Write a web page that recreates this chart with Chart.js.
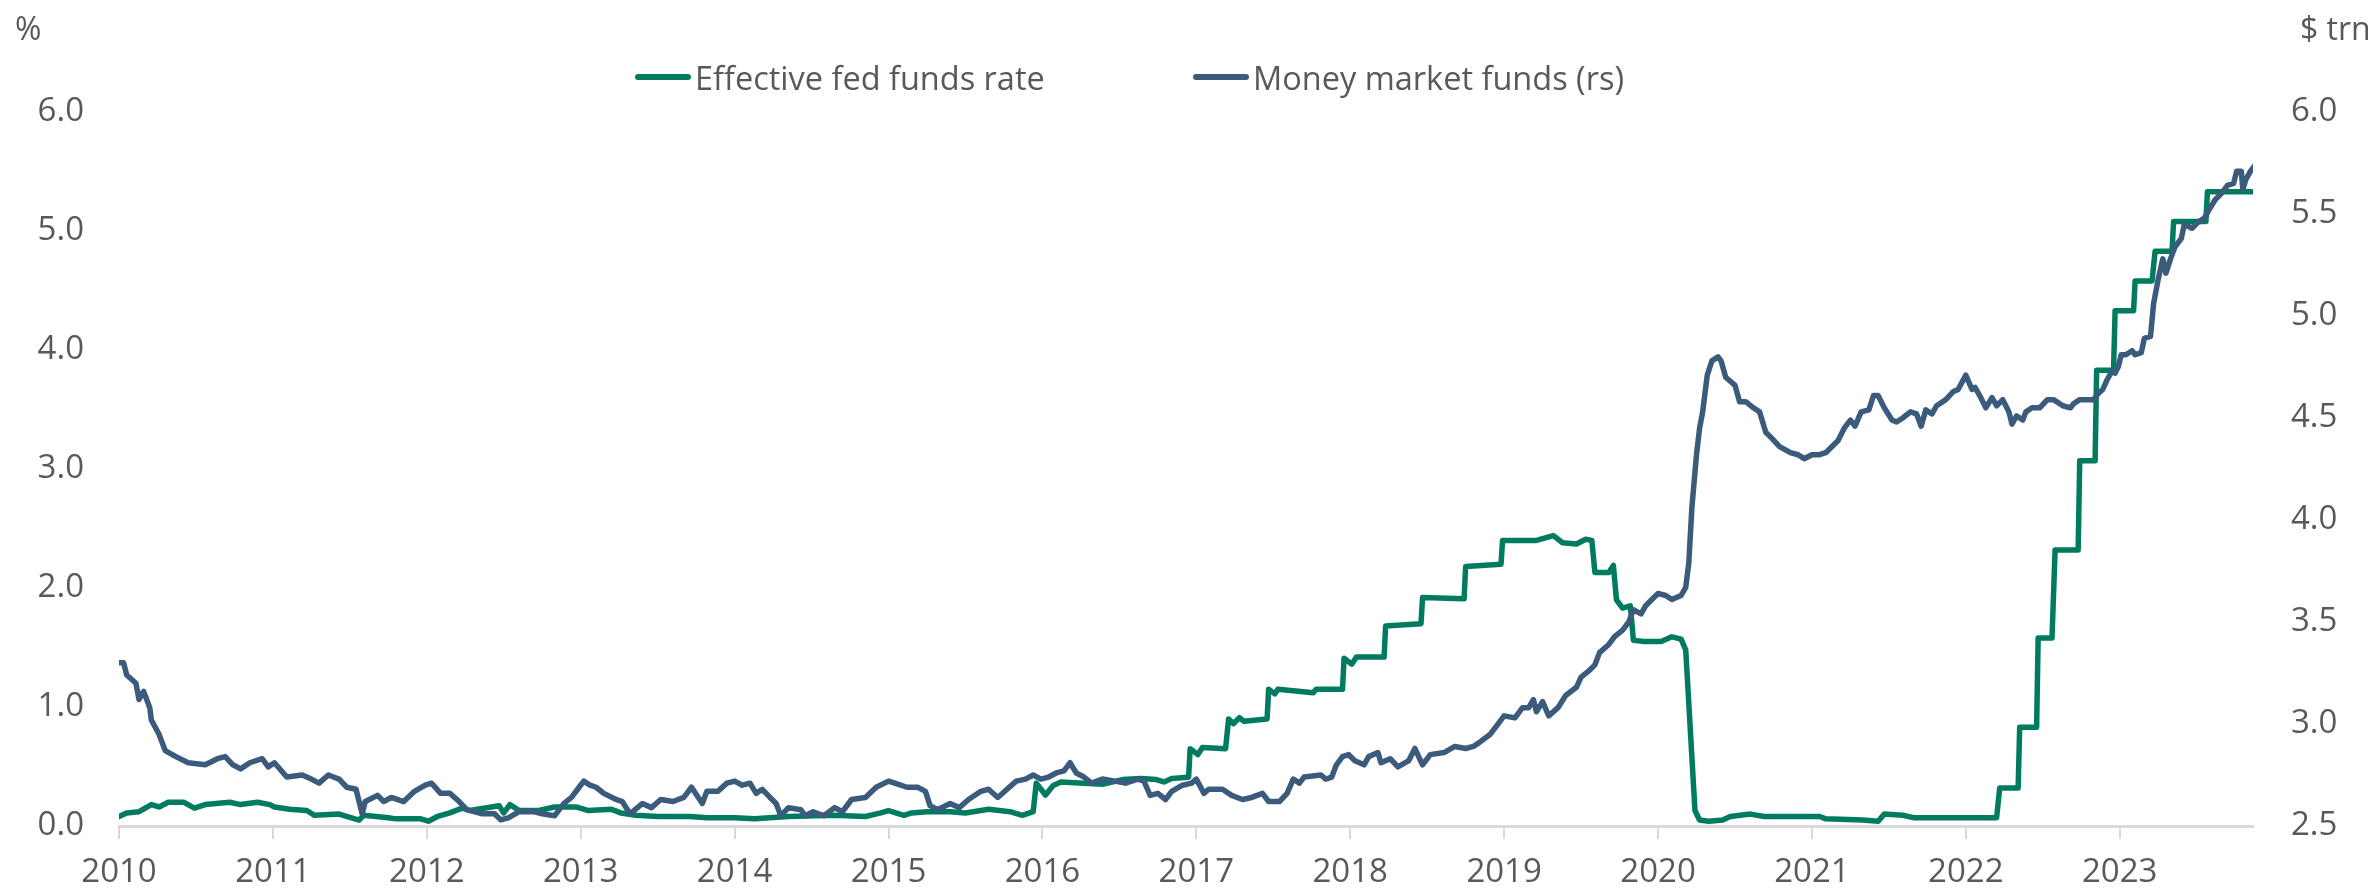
<!DOCTYPE html>
<html lang="en">
<head>
  <meta charset="UTF-8">
  <title>Fed funds rate vs money market funds</title>
  <script src="https://cdn.jsdelivr.net/npm/chart.js"></script>
  <style>
    body { margin: 0; background: #fff; font-family: "Open Sans", sans-serif; color: #595959; }
    #wrap { position: relative; width: 2379px; height: 894px; }
    .unit { position: absolute; top: 8px; font-size: 32px; line-height: 40px; }
    .item { position: absolute; top: 57px; height: 40px; display: flex; align-items: center; font-size: 32.5px; white-space: nowrap; }
    .item span.box { display: inline-block; width: 56px; height: 6px; border-radius: 3px; margin-right: 4px; }
  </style>
</head>
<body>
<div id="wrap">
  <canvas id="chart" width="2379" height="894"></canvas>
  <div class="unit" style="left:15px">%</div>
  <div class="unit" style="left:2300px">$ trn</div>
  <div class="item" style="left:635px"><span class="box" style="background:#007B5F"></span>Effective fed funds rate</div>
  <div class="item" style="left:1193px"><span class="box" style="background:#3B5B7C"></span>Money market funds (rs)</div>
</div>

<script>
  // effective fed funds rate, % (left axis) - x in decimal years
  const effrYears = [
    2010.00, 2010.05, 2010.13, 2010.21, 2010.26, 2010.32, 2010.42, 2010.49, 2010.56, 2010.72, 2010.79, 2010.90, 2010.98,
    2011.01, 2011.11, 2011.22, 2011.27, 2011.43, 2011.56, 2011.59, 2011.75, 2011.80, 2011.96,
    2012.01, 2012.07, 2012.15, 2012.23, 2012.28, 2012.47, 2012.50, 2012.54, 2012.60, 2012.73, 2012.83, 2012.97,
    2013.05, 2013.20, 2013.26, 2013.36, 2013.50, 2013.71, 2013.82,
    2014.00, 2014.13, 2014.35, 2014.65, 2014.85, 2014.95,
    2015.00, 2015.10, 2015.15, 2015.25, 2015.40, 2015.50, 2015.65, 2015.79, 2015.87, 2015.94, 2015.96,
    2016.02, 2016.07, 2016.12, 2016.27, 2016.39, 2016.52, 2016.64, 2016.74, 2016.79, 2016.84, 2016.95, 2016.96,
    2017.01, 2017.04, 2017.19, 2017.21, 2017.24, 2017.28, 2017.31, 2017.46, 2017.47, 2017.51, 2017.53, 2017.76, 2017.78, 2017.95, 2017.96,
    2018.01, 2018.04, 2018.22, 2018.23, 2018.46, 2018.47, 2018.74, 2018.75, 2018.98, 2018.99,
    2019.21, 2019.32, 2019.38, 2019.47, 2019.53, 2019.57, 2019.59, 2019.68, 2019.71, 2019.73, 2019.77, 2019.82, 2019.84, 2019.91,
    2020.02, 2020.09, 2020.15, 2020.18, 2020.24, 2020.27, 2020.33, 2020.42, 2020.47, 2020.60, 2020.69,
    2021.05, 2021.09, 2021.33, 2021.43, 2021.47, 2021.59, 2021.66,
    2022.20, 2022.22, 2022.34, 2022.35, 2022.46, 2022.47, 2022.56, 2022.58, 2022.73, 2022.74, 2022.84, 2022.85, 2022.96, 2022.97,
    2023.09, 2023.10, 2023.21, 2023.23, 2023.34, 2023.35, 2023.56, 2023.57, 2023.88
  ];
  const effrRates = [
    0.08, 0.11, 0.12, 0.18, 0.16, 0.20, 0.20, 0.15, 0.18, 0.20, 0.18, 0.20, 0.18,
    0.16, 0.14, 0.13, 0.09, 0.10, 0.05, 0.09, 0.07, 0.06, 0.06,
    0.04, 0.08, 0.11, 0.15, 0.13, 0.17, 0.11, 0.18, 0.13, 0.13, 0.16, 0.16,
    0.13, 0.14, 0.11, 0.09, 0.08, 0.08, 0.07,
    0.07, 0.06, 0.08, 0.09, 0.08, 0.11,
    0.13, 0.09, 0.11, 0.12, 0.12, 0.11, 0.14, 0.12, 0.09, 0.12, 0.36,
    0.26, 0.34, 0.37, 0.36, 0.35, 0.39, 0.40, 0.39, 0.37, 0.40, 0.41, 0.65,
    0.60, 0.66, 0.65, 0.90, 0.86, 0.91, 0.88, 0.90, 1.15, 1.11, 1.15, 1.12, 1.15, 1.15, 1.41,
    1.36, 1.42, 1.42, 1.68, 1.70, 1.92, 1.91, 2.18, 2.20, 2.40,
    2.40, 2.44, 2.38, 2.37, 2.41, 2.40, 2.13, 2.13, 2.19, 1.90, 1.83, 1.85, 1.56, 1.55,
    1.55, 1.59, 1.57, 1.48, 0.13, 0.05, 0.04, 0.05, 0.08, 0.10, 0.08,
    0.08, 0.06, 0.05, 0.04, 0.10, 0.09, 0.07,
    0.07, 0.32, 0.32, 0.83, 0.83, 1.58, 1.58, 2.32, 2.32, 3.07, 3.07, 3.83, 3.83, 4.33,
    4.33, 4.58, 4.58, 4.83, 4.83, 5.08, 5.08, 5.33, 5.33
  ];

  // money market fund assets, $ trn (right axis)
  const mmfYears = [
    2010.00, 2010.03, 2010.05, 2010.11, 2010.13, 2010.16, 2010.20, 2010.21, 2010.26, 2010.30, 2010.37, 2010.45, 2010.56,
    2010.64, 2010.69, 2010.74, 2010.79, 2010.85, 2010.93, 2010.97,
    2011.01, 2011.09, 2011.19, 2011.25, 2011.30, 2011.36, 2011.43, 2011.48, 2011.54, 2011.58, 2011.60, 2011.68, 2011.72, 2011.77, 2011.85, 2011.92, 2011.99,
    2012.03, 2012.09, 2012.15, 2012.21, 2012.26, 2012.36, 2012.44, 2012.48, 2012.53, 2012.60, 2012.70, 2012.75, 2012.83, 2012.89, 2012.94, 2012.98,
    2013.02, 2013.06, 2013.10, 2013.15, 2013.23, 2013.27, 2013.32, 2013.40, 2013.46, 2013.52, 2013.60, 2013.67, 2013.72, 2013.79, 2013.82, 2013.89, 2013.95,
    2014.00, 2014.05, 2014.10, 2014.14, 2014.18, 2014.23, 2014.27, 2014.30, 2014.35, 2014.43, 2014.46, 2014.51, 2014.58, 2014.65, 2014.70, 2014.76, 2014.85, 2014.92,
    2015.00, 2015.04, 2015.12, 2015.19, 2015.24, 2015.27, 2015.32, 2015.40, 2015.46, 2015.52, 2015.60, 2015.65, 2015.71, 2015.77, 2015.83, 2015.89, 2015.94, 2015.99,
    2016.04, 2016.09, 2016.14, 2016.18, 2016.22, 2016.27, 2016.32, 2016.39, 2016.47, 2016.54, 2016.62, 2016.66, 2016.70, 2016.75, 2016.80, 2016.84, 2016.91, 2016.97,
    2017.00, 2017.05, 2017.08, 2017.17, 2017.23, 2017.30, 2017.36, 2017.43, 2017.47, 2017.54, 2017.59, 2017.63, 2017.67, 2017.70, 2017.81, 2017.84, 2017.88, 2017.91, 2017.95, 2017.99,
    2018.03, 2018.09, 2018.12, 2018.18, 2018.20, 2018.26, 2018.31, 2018.38, 2018.42, 2018.47, 2018.52, 2018.61, 2018.68, 2018.75, 2018.80, 2018.84, 2018.91, 2018.95,
    2019.00, 2019.07, 2019.12, 2019.16, 2019.19, 2019.21, 2019.25, 2019.29, 2019.35, 2019.40, 2019.47, 2019.50, 2019.55, 2019.59, 2019.62, 2019.68, 2019.72, 2019.77, 2019.81, 2019.84, 2019.89, 2019.92, 2019.96,
    2020.00, 2020.05, 2020.09, 2020.15, 2020.18, 2020.20, 2020.22, 2020.25, 2020.27, 2020.29, 2020.32, 2020.35, 2020.39, 2020.41, 2020.44, 2020.47, 2020.50, 2020.53, 2020.57, 2020.62, 2020.66, 2020.70, 2020.74, 2020.79, 2020.86, 2020.91, 2020.95,
    2021.00, 2021.05, 2021.09, 2021.17, 2021.21, 2021.25, 2021.28, 2021.32, 2021.37, 2021.40, 2021.43, 2021.47, 2021.52, 2021.55, 2021.59, 2021.64, 2021.68, 2021.71, 2021.74, 2021.78, 2021.81, 2021.87, 2021.92, 2021.95,
    2022.00, 2022.04, 2022.06, 2022.09, 2022.13, 2022.17, 2022.20, 2022.24, 2022.28, 2022.30, 2022.33, 2022.37, 2022.39, 2022.43, 2022.48, 2022.53, 2022.57, 2022.63, 2022.68, 2022.70, 2022.74, 2022.80, 2022.83, 2022.86, 2022.89, 2022.92, 2022.95, 2022.97, 2022.99,
    2023.01, 2023.04, 2023.08, 2023.10, 2023.14, 2023.16, 2023.20, 2023.22, 2023.25, 2023.28, 2023.30, 2023.33, 2023.36, 2023.40, 2023.42, 2023.47, 2023.51, 2023.55, 2023.58, 2023.62, 2023.66, 2023.70, 2023.74, 2023.76, 2023.79, 2023.80, 2023.82, 2023.85, 2023.88
  ];
  const mmfAssets = [
    3.30, 3.30, 3.24, 3.20, 3.12, 3.16, 3.08, 3.02, 2.95, 2.87, 2.84, 2.81, 2.80,
    2.83, 2.84, 2.80, 2.78, 2.81, 2.83, 2.79,
    2.81, 2.74, 2.75, 2.73, 2.71, 2.75, 2.73, 2.69, 2.68, 2.56, 2.62, 2.65, 2.62, 2.64, 2.62, 2.67, 2.70,
    2.71, 2.66, 2.66, 2.62, 2.58, 2.56, 2.56, 2.53, 2.54, 2.57, 2.57, 2.56, 2.55, 2.61, 2.64, 2.68,
    2.72, 2.70, 2.69, 2.66, 2.63, 2.62, 2.56, 2.61, 2.59, 2.63, 2.62, 2.64, 2.69, 2.61, 2.67, 2.67, 2.71,
    2.72, 2.70, 2.71, 2.66, 2.68, 2.64, 2.61, 2.55, 2.59, 2.58, 2.55, 2.57, 2.55, 2.59, 2.57, 2.63, 2.64, 2.69,
    2.72, 2.71, 2.69, 2.69, 2.67, 2.60, 2.58, 2.61, 2.59, 2.63, 2.67, 2.68, 2.64, 2.68, 2.72, 2.73, 2.75, 2.73,
    2.74, 2.76, 2.77, 2.81, 2.76, 2.74, 2.71, 2.73, 2.72, 2.71, 2.73, 2.72, 2.65, 2.66, 2.63, 2.67, 2.70, 2.71,
    2.73, 2.66, 2.68, 2.68, 2.65, 2.63, 2.64, 2.66, 2.62, 2.62, 2.66, 2.73, 2.71, 2.74, 2.75, 2.73, 2.74, 2.80, 2.84, 2.85,
    2.82, 2.80, 2.84, 2.86, 2.81, 2.83, 2.79, 2.82, 2.88, 2.80, 2.85, 2.86, 2.89, 2.88, 2.89, 2.91, 2.95, 2.99,
    3.04, 3.03, 3.08, 3.08, 3.12, 3.06, 3.11, 3.04, 3.08, 3.14, 3.18, 3.23, 3.26, 3.29, 3.35, 3.39, 3.43, 3.46, 3.50, 3.56, 3.54, 3.58, 3.61,
    3.64, 3.63, 3.61, 3.63, 3.67, 3.79, 4.06, 4.32, 4.45, 4.53, 4.71, 4.78, 4.80, 4.78, 4.70, 4.68, 4.66, 4.58, 4.58, 4.55, 4.53, 4.43, 4.40, 4.36, 4.33, 4.32, 4.30,
    4.32, 4.32, 4.33, 4.39, 4.45, 4.49, 4.46, 4.53, 4.54, 4.61, 4.61, 4.55, 4.49, 4.48, 4.50, 4.53, 4.52, 4.46, 4.54, 4.52, 4.56, 4.59, 4.63, 4.64,
    4.71, 4.64, 4.65, 4.61, 4.55, 4.60, 4.56, 4.59, 4.53, 4.47, 4.51, 4.49, 4.53, 4.55, 4.55, 4.59, 4.59, 4.56, 4.55, 4.57, 4.59, 4.59, 4.59, 4.62, 4.64, 4.69, 4.73, 4.72, 4.75,
    4.81, 4.81, 4.83, 4.81, 4.82, 4.89, 4.90, 5.06, 5.18, 5.28, 5.21, 5.28, 5.34, 5.38, 5.45, 5.43, 5.46, 5.48, 5.52, 5.57, 5.60, 5.64, 5.65, 5.71, 5.71, 5.62, 5.67, 5.71, 5.74
  ];

  const leftTicks = [0, 6, 1];      // min, max, step
  const rightTicks = [2.5, 6.0, 0.5];
  const xRange = [2010, 2023.866];

  const green = "#007B5F";
  const blue = "#3B5B7C";
  const grey = "#595959";
  const axisGrey = "#D9D9D9";
  const tickFont = { family: "Open Sans", size: 33 };

  new Chart(document.getElementById("chart"), {
    type: "line",
    data: {
      datasets: [
        {
          label: "Effective fed funds rate",
          data: effrYears.map((x, i) => ({ x, y: effrRates[i] })),
          borderColor: green, backgroundColor: green,
          borderWidth: 5.5, pointRadius: 0, yAxisID: "y", order: 1,
          borderJoinStyle: "round", borderCapStyle: "round"
        },
        {
          label: "Money market funds (rs)",
          data: mmfYears.map((x, i) => ({ x, y: mmfAssets[i] })),
          borderColor: blue, backgroundColor: blue,
          borderWidth: 5.5, pointRadius: 0, yAxisID: "y1", order: 0,
          borderJoinStyle: "round", borderCapStyle: "round"
        }
      ]
    },
    options: {
      responsive: false,
      animation: false,
      devicePixelRatio: 1,
      layout: { padding: { top: 112, left: 0, right: 0, bottom: 0 } },
      plugins: { legend: { display: false }, tooltip: { enabled: false } },
      scales: {
        x: {
          type: "linear",
          min: xRange[0], max: xRange[1],
          afterFit: s => { s.height = 68; },
          border: { display: true, color: axisGrey, width: 3 },
          grid: { display: true, drawOnChartArea: false, drawTicks: true, tickLength: 13, color: axisGrey, lineWidth: 2 },
          ticks: { stepSize: 1, includeBounds: false, autoSkip: false, maxRotation: 0, padding: 14,
                   color: grey, font: tickFont, callback: v => String(v) }
        },
        y: {
          position: "left",
          min: leftTicks[0], max: leftTicks[1],
          afterFit: s => { s.width = 119; },
          border: { display: false },
          grid: { display: false, drawTicks: false },
          ticks: { stepSize: leftTicks[2], padding: 35, color: grey, font: tickFont, callback: v => v.toFixed(1) }
        },
        y1: {
          position: "right",
          min: rightTicks[0], max: rightTicks[1],
          afterFit: s => { s.width = 126; },
          border: { display: false },
          grid: { display: false, drawTicks: false },
          ticks: { stepSize: rightTicks[2], padding: 38, color: grey, font: tickFont, callback: v => v.toFixed(1) }
        }
      }
    }
  });
</script>
</body>
</html>
